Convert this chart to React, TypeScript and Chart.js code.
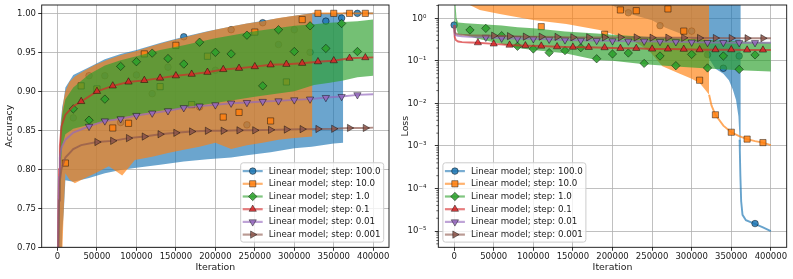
import React, { useEffect, useRef } from 'react';
import { Chart, registerables } from 'chart.js';

Chart.register(...registerables);

// ---------------- labels, ticks ----------------
const SERIES_LABELS = [
  'Linear model; step: 100.0',
  'Linear model; step: 10.0',
  'Linear model; step: 1.0',
  'Linear model; step: 0.1',
  'Linear model; step: 0.01',
  'Linear model; step: 0.001',
];
const X_TICKS = [0, 50000, 100000, 150000, 200000, 250000, 300000, 350000, 400000];
const ACC_TICKS = [0.7, 0.75, 0.8, 0.85, 0.9, 0.95, 1.0];
const LOSS_TICKS = [1e-5, 1e-4, 1e-3, 1e-2, 1e-1, 1];

// ---------------- marker positions (iterations) ----------------
const MARK_X_0 = [0, 20000, 40000, 60000, 80000, 100000, 120000, 140000, 160000, 180000, 200000, 220000, 240000, 260000, 280000, 300000, 320000, 340000, 360000, 380000];
const MARK_X_1 = [10000, 30000, 50000, 70000, 90000, 110000, 130000, 150000, 170000, 190000, 210000, 230000, 250000, 270000, 290000, 310000, 330000, 350000, 370000, 390000];
const MARK_X_2 = [20000, 40000, 60000, 80000, 100000, 120000, 140000, 160000, 180000, 200000, 220000, 240000, 260000, 280000, 300000, 320000, 340000, 360000, 380000];
const MARK_X_3 = [30000, 50000, 70000, 90000, 110000, 130000, 150000, 170000, 190000, 210000, 230000, 250000, 270000, 290000, 310000, 330000, 350000, 370000, 390000];
const MARK_X_4 = [40000, 60000, 80000, 100000, 120000, 140000, 160000, 180000, 200000, 220000, 240000, 260000, 280000, 300000, 320000, 340000, 360000, 380000];
const MARK_X_5 = [50000, 70000, 90000, 110000, 130000, 150000, 170000, 190000, 210000, 230000, 250000, 270000, 290000, 310000, 330000, 350000, 370000, 390000];

// ---------------- ACCURACY ----------------
// step 100.0 (noisy band)
const ACC_B_BAND_X = [0, 2000, 4000, 6000, 8000, 10000, 20000, 40000, 60000, 80000, 100000, 130000, 160000, 190000, 220000, 240000, 270000, 300000, 322000, 335000, 350000, 362000];
const ACC_B_UPPER = [0.5, 0.8, 0.86, 0.88, 0.89, 0.905, 0.921, 0.931, 0.941, 0.948, 0.953, 0.962, 0.97, 0.977, 0.983, 0.987, 0.992, 0.997, 1.0, 1.0, 1.0, 1.0];
const ACC_B_LOWER = [0.5, 0.55, 0.62, 0.72, 0.746, 0.786, 0.784, 0.789, 0.795, 0.799, 0.802, 0.806, 0.81, 0.813, 0.815, 0.818, 0.822, 0.827, 0.829, 0.831, 0.833, 0.834];
const ACC_B_TAIL_X = [362000, 400000];
const ACC_B_TAIL = [1.0, 1.0];
const ACC_B_MARKS = [0.5, 0.866, 0.92, 0.92, 0.86, 0.921, 0.897, 0.931, 0.97, 0.88, 0.927, 0.979, 0.857, 0.988, 0.96, 0.979, 0.95, 0.99, 0.994, 1.0];
// step 10.0
const ACC_O_BAND_X = [0, 2000, 4000, 6000, 8000, 10000, 15000, 22000, 35000, 48000, 65000, 82000, 98000, 120000, 140000, 160000, 180000, 200000, 220000, 240000, 260000, 280000, 300000, 323000];
const ACC_O_UPPER = [0.5, 0.8, 0.85, 0.875, 0.89, 0.9, 0.912, 0.919, 0.927, 0.934, 0.941, 0.947, 0.951, 0.958, 0.964, 0.969, 0.974, 0.979, 0.983, 0.987, 0.99, 0.994, 0.997, 1.0];
const ACC_O_LOWER = [0.5, 0.55, 0.62, 0.69, 0.75, 0.795, 0.787, 0.782, 0.789, 0.795, 0.804, 0.792, 0.812, 0.816, 0.821, 0.825, 0.829, 0.834, 0.826, 0.831, 0.834, 0.838, 0.84, 0.842];
const ACC_O_TAIL_X = [323000, 400000];
const ACC_O_TAIL = [1.0, 1.0];
const ACC_O_MARKS = [0.808, 0.907, 0.903, 0.853, 0.859, 0.948, 0.906, 0.959, 0.883, 0.945, 0.867, 0.873, 0.976, 0.862, 0.912, 0.992, 1.0, 1.0, 1.0, 1.0];
// step 1.0
const ACC_G_BAND_X = [0, 2000, 4000, 6000, 10000, 20000, 40000, 60000, 80000, 100000, 130000, 160000, 200000, 250000, 300000, 325000, 345000, 362000, 380000, 400000];
const ACC_G_UPPER = [0.5, 0.8, 0.85, 0.87, 0.89, 0.905, 0.922, 0.933, 0.94, 0.945, 0.953, 0.959, 0.968, 0.977, 0.984, 0.986, 0.988, 0.989, 0.99, 0.992];
const ACC_G_LOWER = [0.5, 0.7, 0.8, 0.83, 0.845, 0.852, 0.857, 0.862, 0.866, 0.87, 0.875, 0.879, 0.885, 0.893, 0.9, 0.908, 0.911, 0.914, 0.918, 0.92];
const ACC_G_MARKS = [0.8775, 0.863, 0.89, 0.932, 0.938, 0.949, 0.942, 0.935, 0.963, 0.95, 0.948, 0.972, 0.907, 0.979, 0.951, 0.984, 0.955, 0.987, 0.951];
// step 0.1
const ACC_R_X = [0, 1000, 2000, 3000, 5000, 10000, 20000, 30000, 50000, 70000, 90000, 110000, 130000, 150000, 170000, 190000, 210000, 230000, 250000, 270000, 290000, 310000, 330000, 350000, 370000, 390000, 400000];
const ACC_R = [0.5, 0.74, 0.8, 0.83, 0.855, 0.87, 0.881, 0.887, 0.9, 0.907, 0.912, 0.914, 0.917, 0.92, 0.922, 0.9245, 0.928, 0.9296, 0.9317, 0.934, 0.9347, 0.936, 0.938, 0.9393, 0.9424, 0.9432, 0.9435];
// step 0.01
const ACC_P_X = [0, 1000, 2000, 3000, 5000, 10000, 20000, 40000, 60000, 80000, 100000, 120000, 140000, 160000, 180000, 200000, 220000, 240000, 260000, 280000, 300000, 320000, 340000, 360000, 380000, 400000];
const ACC_P = [0.5, 0.72, 0.79, 0.815, 0.828, 0.838, 0.847, 0.855, 0.862, 0.8647, 0.869, 0.872, 0.875, 0.879, 0.881, 0.8826, 0.8848, 0.8856, 0.887, 0.8877, 0.889, 0.89, 0.892, 0.8933, 0.8955, 0.8963];
// step 0.001
const ACC_N_X = [0, 1000, 2000, 3000, 5000, 10000, 20000, 30000, 50000, 70000, 90000, 110000, 130000, 150000, 170000, 190000, 210000, 230000, 250000, 270000, 290000, 310000, 330000, 350000, 370000, 390000, 400000];
const ACC_N = [0.5, 0.7, 0.76, 0.785, 0.8, 0.815, 0.826, 0.831, 0.835, 0.8365, 0.84, 0.842, 0.845, 0.8468, 0.8485, 0.8494, 0.8494, 0.85, 0.85, 0.8506, 0.851, 0.8515, 0.8517, 0.852, 0.853, 0.853, 0.8535];

// ---------------- LOSS ----------------
const LOSS_B_BAND_X = [1000, 100000, 180000, 200000, 220000, 250000, 267000, 284000, 305000, 320000, 330000, 340000, 347000, 352000, 356000, 359000, 360500, 362000];
const LOSS_B_UPPER = [30, 30, 30, 30, 30, 30, 30, 30, 30, 30, 30, 30, 30, 30, 30, 30, 30, 30];
const LOSS_B_LOWER = [8, 4, 2.6, 2.0, 1.3, 0.9, 0.6, 0.45, 0.3, 0.13, 0.065, 0.05, 0.035, 0.021, 0.012, 0.005, 0.0014, 0.0008];
const LOSS_B_TAIL_X = [360500, 361500, 362500, 364200, 368500, 379000, 390000, 400000];
const LOSS_B_TAIL = [0.0014, 0.0002, 0.00005, 0.000024, 0.000018, 0.000015, 0.0000122, 0.00001];
const LOSS_B_MARKS = [0.693, 6.2, 4.8, 7.5, 3.9, 5.6, 8.1, 4.4, 3.2, 6.7, 2.9, 1.35, 3.6, 0.67, 2.6, 0.5, 0.14, 0.067, 0.13, 0.000015];

const LOSS_O_BAND_X = [1000, 10000, 19800, 32400, 57600, 99600, 141600, 183600, 225600, 246600, 263000, 285000, 300000, 310000, 316000, 322000];
const LOSS_O_UPPER = [30, 30, 30, 30, 30, 30, 30, 30, 30, 30, 30, 30, 30, 30, 30, 30];
const LOSS_O_LOWER = [8, 4, 2.05, 1.57, 1.26, 0.91, 0.73, 0.53, 0.3, 0.17, 0.075, 0.05, 0.038, 0.03, 0.022, 0.016];
const LOSS_O_TAIL_X = [322000, 325000, 330000, 340000, 350000, 360000, 370000, 380000, 390000, 400000];
const LOSS_O_TAIL = [0.016, 0.009, 0.0054, 0.003, 0.0021, 0.0017, 0.00145, 0.0013, 0.0012, 0.00105];
const LOSS_O_MARKS = [6, 4.5, 3.8, 5.2, 3.3, 0.635, 4.1, 3.5, 3.0, 0.42, 1.57, 1.51, 3.1, 1.66, 0.5, 0.035, 0.0054, 0.0021, 0.00145, 0.0012];

const LOSS_G_BAND_X = [0, 600, 1500, 3000, 5000, 15000, 30000, 60000, 80000, 100000, 140000, 180000, 200000, 240000, 280000, 320000, 360000, 400000];
const LOSS_G_UPPER = [0.693, 6, 2.5, 1.0, 0.8, 0.76, 0.73, 0.68, 0.62, 0.58, 0.49, 0.44, 0.41, 0.37, 0.34, 0.31, 0.29, 0.27];
const LOSS_G_LOWER = [0.693, 2, 0.9, 0.55, 0.42, 0.4, 0.33, 0.25, 0.2, 0.18, 0.15, 0.105, 0.1, 0.083, 0.074, 0.066, 0.06, 0.056];
const LOSS_G_MARKS = [0.53, 0.58, 0.39, 0.22, 0.19, 0.156, 0.174, 0.204, 0.112, 0.145, 0.153, 0.087, 0.13, 0.077, 0.142, 0.068, 0.13, 0.063, 0.138];

const LOSS_R_X = [0, 500, 1000, 2000, 5000, 10000, 20000, 30000, 50000, 70000, 90000, 110000, 130000, 150000, 170000, 190000, 210000, 230000, 250000, 270000, 290000, 310000, 330000, 350000, 370000, 390000, 400000];
const LOSS_R = [0.693, 0.45, 0.36, 0.31, 0.285, 0.275, 0.27, 0.267, 0.25, 0.235, 0.227, 0.223, 0.215, 0.21, 0.208, 0.204, 0.197, 0.197, 0.19, 0.19, 0.188, 0.183, 0.183, 0.183, 0.18, 0.18, 0.18];
const LOSS_P_X = [0, 500, 1000, 2000, 5000, 10000, 20000, 40000, 60000, 80000, 100000, 120000, 140000, 160000, 180000, 200000, 220000, 240000, 260000, 280000, 300000, 320000, 340000, 360000, 380000, 400000];
const LOSS_P = [0.693, 0.5, 0.43, 0.4, 0.385, 0.375, 0.365, 0.357, 0.34, 0.335, 0.33, 0.32, 0.31, 0.305, 0.3, 0.295, 0.29, 0.29, 0.285, 0.28, 0.275, 0.27, 0.27, 0.267, 0.267, 0.267];
const LOSS_N_X = [0, 500, 1000, 2000, 5000, 10000, 20000, 30000, 50000, 70000, 90000, 110000, 130000, 150000, 170000, 190000, 210000, 230000, 250000, 270000, 290000, 310000, 330000, 350000, 370000, 390000, 400000];
const LOSS_N = [0.693, 0.55, 0.48, 0.44, 0.42, 0.41, 0.4, 0.395, 0.39, 0.38, 0.37, 0.37, 0.365, 0.357, 0.357, 0.357, 0.357, 0.355, 0.35, 0.35, 0.348, 0.344, 0.343, 0.342, 0.34, 0.34, 0.34];

// ---------------- styles ----------------
const FONT = 'DejaVu Sans';
const TEXT = '#1a1a1a';
const SERIES_COLORS = ['#1f77b4', '#ff7f0e', '#2ca02c', '#d62728', '#9467bd', '#8c564b'];
const MARKER_STYLES = ['circle', 'rect', 'rectRot', 'triangle', 'triangle', 'triangle'];
const MARKER_ROT = [0, 0, 0, 0, 180, 90];
const MARKER_R = [3.3, 4.4, 4.2, 4.2, 4.2, 4.2];
const BAND_ALPHA = 0.66;
const LINE_ALPHA = 0.68;
const MARK_ALPHA = 0.85;
const LINE_W = 1.9;
const EDGE = 'rgba(0,0,0,0.55)';
const EDGE_W = 0.8;
const GRID = 'rgba(176,176,176,0.8)';

Chart.defaults.font.family = FONT;

const rgba = (hex: string, a: number) => {
  const n = parseInt(hex.slice(1), 16);
  return `rgba(${(n >> 16) & 255},${(n >> 8) & 255},${n & 255},${a})`;
};
const pts = (xs: number[], ys: number[]) => xs.map((x, i) => ({ x, y: ys[i] }));

const markerStyle = (i: number) => ({
  pointStyle: MARKER_STYLES[i],
  pointRotation: MARKER_ROT[i],
  pointBackgroundColor: rgba(SERIES_COLORS[i], MARK_ALPHA),
  pointBorderColor: EDGE,
  pointBorderWidth: EDGE_W,
});

function bandSets(i: number, xs: number[], up: number[], lo: number[]) {
  return [
    { data: pts(xs, up), fill: '+1', backgroundColor: rgba(SERIES_COLORS[i], BAND_ALPHA), borderColor: 'transparent', borderWidth: 0, pointRadius: 0 },
    { data: pts(xs, lo), fill: false, borderColor: 'transparent', borderWidth: 0, pointRadius: 0 },
  ];
}
function lineSet(i: number, xs: number[], ys: number[], markX: number[]) {
  const set = new Set(markX);
  return {
    data: pts(xs, ys),
    fill: false,
    borderColor: rgba(SERIES_COLORS[i], LINE_ALPHA),
    borderWidth: LINE_W,
    pointRadius: (c: any) => (c.raw && set.has(c.raw.x) ? MARKER_R[i] : 0),
    ...markerStyle(i),
  };
}
function markSet(i: number, xs: number[], ys: number[]) {
  return { data: pts(xs, ys), showLine: false, fill: false, pointRadius: MARKER_R[i], ...markerStyle(i) };
}
const finalize = (list: any[]) => list.map((d, k) => ({ ...d, order: list.length - k }));

const SUP: Record<string, string> = { '-': '⁻', '0': '⁰', '1': '¹', '2': '²', '3': '³', '4': '⁴', '5': '⁵', '6': '⁶', '7': '⁷', '8': '⁸', '9': '⁹' };
const powLabel = (v: number) => '10' + String(Math.round(Math.log10(v))).split('').map((c) => SUP[c]).join('');

function fixScale(s: any, w?: number, h?: number) {
  if (w !== undefined) s.width = w;
  if (h !== undefined) s.height = h;
  s.paddingLeft = 0; s.paddingRight = 0; s.paddingTop = 0; s.paddingBottom = 0;
}

const tickFont = { family: FONT, size: 8.5 };
const titleFont = { family: FONT, size: 9.4 };
const gridOpts = { color: GRID, lineWidth: 1, drawTicks: true, tickLength: 3.5, tickColor: '#000', tickWidth: 0.8 };

function xScale() {
  return {
    type: 'linear', min: -20000, max: 420000,
    afterBuildTicks: (s: any) => { s.ticks = X_TICKS.map((v) => ({ value: v })); },
    afterFit: (s: any) => fixScale(s, undefined, 31.7),
    ticks: { autoSkip: false, maxRotation: 0, padding: 1, color: TEXT, font: tickFont, callback: (v: any) => String(v) },
    grid: gridOpts,
    border: { display: false },
    title: { display: true, text: 'Iteration', color: TEXT, font: titleFont, padding: { top: 0, bottom: 5.4 } },
  };
}

// ---------------- plugins ----------------
const framePlugin = {
  id: 'frame',
  afterDatasetsDraw(chart: any) {
    const { ctx, chartArea: a } = chart;
    ctx.save();
    ctx.strokeStyle = '#111';
    ctx.lineWidth = 0.9;
    ctx.strokeRect(a.left, a.top, a.right - a.left, a.bottom - a.top);
    ctx.restore();
  },
};

function drawMarker(ctx: CanvasRenderingContext2D, i: number, x: number, y: number) {
  const r = MARKER_R[i];
  const style = MARKER_STYLES[i];
  ctx.beginPath();
  if (style === 'circle') ctx.arc(x, y, r, 0, Math.PI * 2);
  else if (style === 'rect') { const s = r * Math.SQRT1_2; ctx.rect(x - s, y - s, 2 * s, 2 * s); }
  else if (style === 'rectRot') { ctx.moveTo(x - r, y); ctx.lineTo(x, y - r); ctx.lineTo(x + r, y); ctx.lineTo(x, y + r); ctx.closePath(); }
  else {
    let a = (MARKER_ROT[i] * Math.PI) / 180;
    ctx.moveTo(x + Math.sin(a) * r, y - Math.cos(a) * r);
    a += (2 * Math.PI) / 3;
    ctx.lineTo(x + Math.sin(a) * r, y - Math.cos(a) * r);
    a += (2 * Math.PI) / 3;
    ctx.lineTo(x + Math.sin(a) * r, y - Math.cos(a) * r);
    ctx.closePath();
  }
  ctx.fillStyle = rgba(SERIES_COLORS[i], MARK_ALPHA);
  ctx.strokeStyle = EDGE;
  ctx.lineWidth = EDGE_W;
  ctx.fill();
  ctx.stroke();
}

function legendPlugin(corner: 'br' | 'bl') {
  return {
    id: 'mplLegend',
    afterDraw(chart: any) {
      const { ctx, chartArea: a } = chart;
      const w = 143, h = 79.3;
      const x0 = corner === 'br' ? a.right - 5.3 - w : a.left + 4.6;
      const y0 = a.bottom - 5.2 - h;
      ctx.save();
      ctx.beginPath();
      const r = 2.5;
      ctx.moveTo(x0 + r, y0);
      ctx.arcTo(x0 + w, y0, x0 + w, y0 + h, r);
      ctx.arcTo(x0 + w, y0 + h, x0, y0 + h, r);
      ctx.arcTo(x0, y0 + h, x0, y0, r);
      ctx.arcTo(x0, y0, x0 + w, y0, r);
      ctx.closePath();
      ctx.fillStyle = 'rgba(255,255,255,0.8)';
      ctx.fill();
      ctx.strokeStyle = '#cccccc';
      ctx.lineWidth = 1;
      ctx.stroke();
      ctx.font = `8.7px '${FONT}'`;
      ctx.textBaseline = 'middle';
      ctx.textAlign = 'left';
      SERIES_LABELS.forEach((label, i) => {
        const cy = y0 + 8.3 + i * 12.7;
        ctx.beginPath();
        ctx.moveTo(x0 + 2, cy);
        ctx.lineTo(x0 + 22, cy);
        ctx.strokeStyle = rgba(SERIES_COLORS[i], 0.6);
        ctx.lineWidth = 2.2;
        ctx.stroke();
        drawMarker(ctx, i, x0 + 12, cy);
        ctx.fillStyle = TEXT;
        ctx.fillText(label, x0 + 28, cy + 0.3);
      });
      ctx.restore();
    },
  };
}

const minorTickPlugin = {
  id: 'minorTicks',
  afterDatasetsDraw(chart: any) {
    const y = chart.scales.y;
    const { ctx } = chart;
    const left = chart.chartArea.left;
    ctx.save();
    ctx.strokeStyle = '#000';
    ctx.lineWidth = 0.6;
    for (let e = -6; e <= 0; e++) {
      for (let m = 2; m <= 9; m++) {
        const v = m * Math.pow(10, e);
        if (v < y.min || v > y.max) continue;
        const py = y.getPixelForValue(v);
        ctx.beginPath();
        ctx.moveTo(left - 2, py);
        ctx.lineTo(left, py);
        ctx.stroke();
      }
    }
    ctx.restore();
  },
};

// ---------------- configs ----------------
function accConfig(): any {
  const datasets = finalize([
    ...bandSets(0, ACC_B_BAND_X, ACC_B_UPPER, ACC_B_LOWER),
    lineSet(0, ACC_B_TAIL_X, ACC_B_TAIL, []),
    markSet(0, MARK_X_0, ACC_B_MARKS),
    ...bandSets(1, ACC_O_BAND_X, ACC_O_UPPER, ACC_O_LOWER),
    lineSet(1, ACC_O_TAIL_X, ACC_O_TAIL, []),
    markSet(1, MARK_X_1, ACC_O_MARKS),
    ...bandSets(2, ACC_G_BAND_X, ACC_G_UPPER, ACC_G_LOWER),
    markSet(2, MARK_X_2, ACC_G_MARKS),
    lineSet(3, ACC_R_X, ACC_R, MARK_X_3),
    lineSet(4, ACC_P_X, ACC_P, MARK_X_4),
    lineSet(5, ACC_N_X, ACC_N, MARK_X_5),
  ]);
  return {
    type: 'line',
    data: { datasets },
    options: {
      responsive: false, animation: false, devicePixelRatio: 1, events: [],
      layout: { padding: { left: 0, top: 5, right: 7, bottom: 0 }, autoPadding: false },
      plugins: { legend: { display: false }, tooltip: { enabled: false } },
      scales: {
        x: xScale(),
        y: {
          type: 'linear', min: 0.7, max: 1.0107,
          afterBuildTicks: (s: any) => { s.ticks = ACC_TICKS.map((v) => ({ value: v })); },
          afterFit: (s: any) => fixScale(s, 41.7),
          ticks: { autoSkip: false, padding: 2.2, color: TEXT, font: tickFont, callback: (v: any) => Number(v).toFixed(2) },
          grid: gridOpts,
          border: { display: false },
          title: { display: true, text: 'Accuracy', color: TEXT, font: titleFont, padding: { top: 3.9, bottom: 0 } },
        },
      },
    },
    plugins: [framePlugin, legendPlugin('br')],
  };
}

function lossConfig(): any {
  const datasets = finalize([
    ...bandSets(0, LOSS_B_BAND_X, LOSS_B_UPPER, LOSS_B_LOWER),
    lineSet(0, LOSS_B_TAIL_X, LOSS_B_TAIL, []),
    markSet(0, MARK_X_0, LOSS_B_MARKS),
    ...bandSets(1, LOSS_O_BAND_X, LOSS_O_UPPER, LOSS_O_LOWER),
    lineSet(1, LOSS_O_TAIL_X, LOSS_O_TAIL, []),
    markSet(1, MARK_X_1, LOSS_O_MARKS),
    ...bandSets(2, LOSS_G_BAND_X, LOSS_G_UPPER, LOSS_G_LOWER),
    markSet(2, MARK_X_2, LOSS_G_MARKS),
    lineSet(3, LOSS_R_X, LOSS_R, MARK_X_3),
    lineSet(4, LOSS_P_X, LOSS_P, MARK_X_4),
    lineSet(5, LOSS_N_X, LOSS_N, MARK_X_5),
  ]);
  return {
    type: 'line',
    data: { datasets },
    options: {
      responsive: false, animation: false, devicePixelRatio: 1, events: [],
      layout: { padding: { left: 0, top: 5, right: 6.3, bottom: 0 }, autoPadding: false },
      plugins: { legend: { display: false }, tooltip: { enabled: false } },
      scales: {
        x: xScale(),
        y: {
          type: 'logarithmic', min: 4.15e-6, max: 2.054,
          afterBuildTicks: (s: any) => { s.ticks = LOSS_TICKS.map((v) => ({ value: v })); },
          afterFit: (s: any) => fixScale(s, 42.3),
          ticks: { autoSkip: false, padding: 8.5, color: TEXT, font: tickFont, callback: (v: any) => powLabel(Number(v)) },
          grid: gridOpts,
          border: { display: false },
          title: { display: true, text: 'Loss', color: TEXT, font: titleFont, padding: { top: 3.9, bottom: 0 } },
        },
      },
    },
    plugins: [framePlugin, minorTickPlugin, legendPlugin('bl')],
  };
}

function ChartCanvas({ make, left, width }: { make: () => any; left: number; width: number }) {
  const ref = useRef<HTMLCanvasElement>(null);
  useEffect(() => {
    const chart = new Chart(ref.current as HTMLCanvasElement, make());
    return () => chart.destroy();
  }, []);
  return (
    <canvas
      ref={ref}
      width={width}
      height={279}
      style={{ position: 'absolute', left, top: 0, width, height: 279, display: 'block' }}
    />
  );
}

export default function App() {
  return (
    <div style={{ position: 'fixed', left: 0, top: 0, width: 793, height: 279, background: '#ffffff', overflow: 'hidden' }}>
      <ChartCanvas make={accConfig} left={0} width={396} />
      <ChartCanvas make={lossConfig} left={396} width={397} />
    </div>
  );
}
